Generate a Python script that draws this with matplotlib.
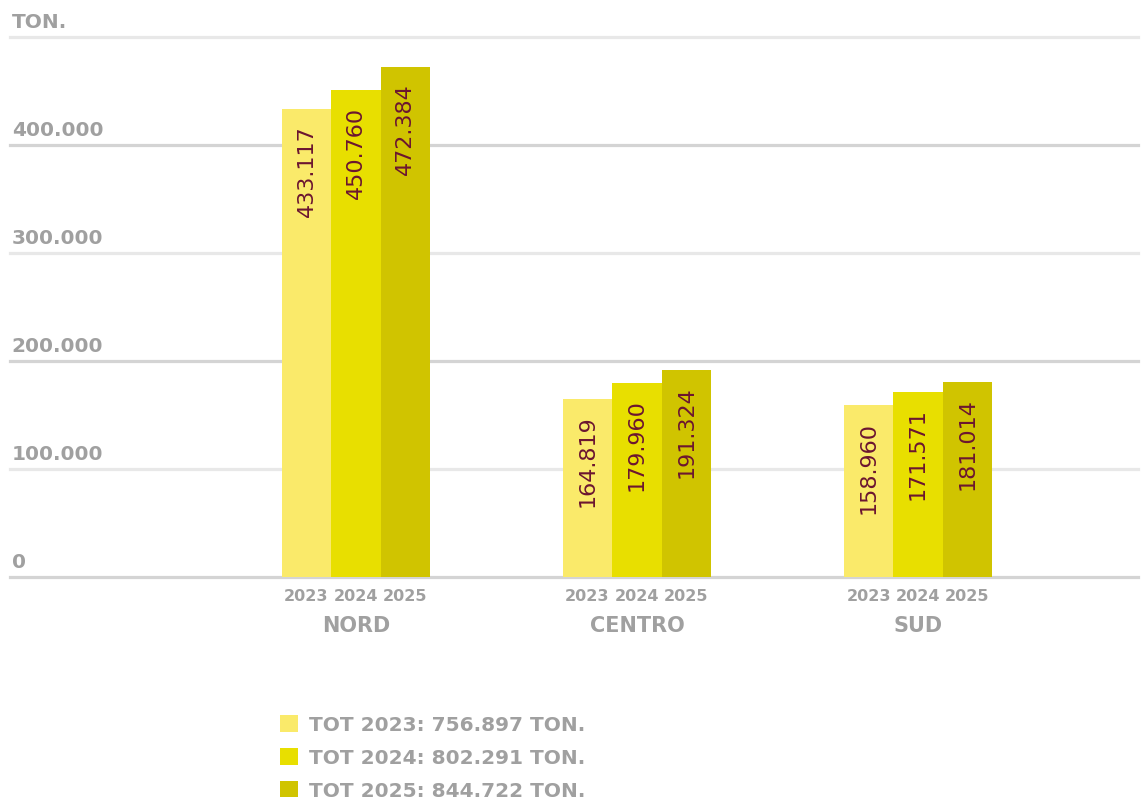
import matplotlib
matplotlib.use("Agg")
import matplotlib.pyplot as plt
import matplotlib.transforms as mtransforms
import numpy as np

# ---- data ----
regions = ["NORD", "CENTRO", "SUD"]
years = ["2023", "2024", "2025"]
values_2023 = [433117, 164819, 158960]
values_2024 = [450760, 179960, 171571]
values_2025 = [472384, 191324, 181014]
totals = [756897, 802291, 844722]
y_ticks = [0, 100000, 200000, 300000, 400000, 500000]
unit_label = "TON."

colors = ["#FAEA6A", "#E8DF00", "#D0C400"]
gray = "#A0A0A0"
maroon = "#6B1530"

def fmt(v):
    return f"{v:,}".replace(",", ".")

W, H = 1144, 803
fig = plt.figure(figsize=(W / 100, H / 100), dpi=100)
ax = fig.add_axes([10 / W, 1 - 578 / H, 1128 / W, (578 - 38) / H])
ax.set_ylim(0, 500000)
ax.set_xlim(-1.231, 2.783)
for s in ax.spines.values():
    s.set_visible(False)
ax.set_yticks([])

# gridlines
for i, t in enumerate(y_ticks):
    ax.axhline(t, color="#D4D4D4" if i % 2 == 0 else "#E8E8E8", lw=2.3,
               zorder=1, clip_on=False)

# y labels
trans = mtransforms.blended_transform_factory(ax.transAxes, ax.transData)
for t in y_ticks:
    lab = unit_label if t == y_ticks[-1] else fmt(t)
    ax.annotate(lab, xy=(0.0015, t), xycoords=trans, xytext=(0, 7),
                textcoords="offset points", ha="left", va="baseline",
                fontsize=14.5, fontweight="bold", color=gray)

x = np.arange(len(regions))
w = 0.176
series = [values_2023, values_2024, values_2025]
bars_all = []
tick_pos, tick_lab = [], []
for j, (vals, col) in enumerate(zip(series, colors)):
    xs = x + (j - 1) * w
    bars = ax.bar(xs, vals, width=w, color=col, zorder=2, linewidth=0)
    bars_all.append(bars)
    for xi, v in zip(xs, vals):
        ax.annotate(fmt(v), xy=(xi, v), xytext=(0, -11), textcoords="offset points",
                    rotation=90, ha="center", va="top", fontsize=16,
                    color=maroon, zorder=3)
        tick_pos.append(xi)
        tick_lab.append(years[j])

ax.set_xticks(tick_pos)
ax.set_xticklabels(tick_lab, fontsize=11.5, fontweight="bold", color=gray)
ax.tick_params(axis="x", length=0, pad=8)

transx = mtransforms.blended_transform_factory(ax.transData, ax.transAxes)
for xi, r in zip(x, regions):
    ax.annotate(r, xy=(xi, 0), xycoords=transx, xytext=(0, -34.5),
                textcoords="offset points", ha="center", va="center",
                fontsize=15, fontweight="bold", color=gray)

labels = [f"TOT {y}: {fmt(t)} {unit_label}" for y, t in zip(years, totals)]
leg = fig.legend([b[0] for b in bars_all], labels, loc="upper left",
                 bbox_to_anchor=(280 / W, 1 - 716 / H), frameon=False,
                 prop={"weight": "bold", "size": 14.5},
                 handlelength=0.9, handleheight=0.9, handletextpad=0.55,
                 labelspacing=0.67, borderpad=0, borderaxespad=0)
for t in leg.get_texts():
    t.set_color(gray)

fig.savefig("out.png", dpi=100)
